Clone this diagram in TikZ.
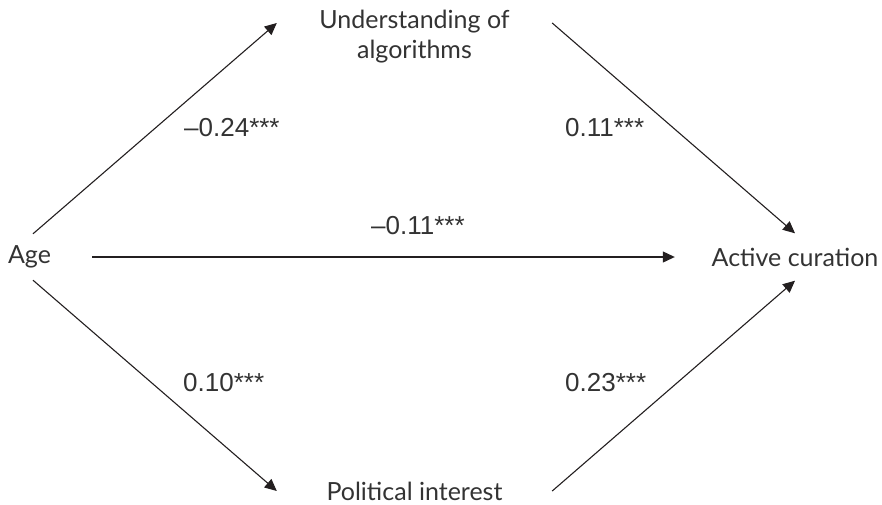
\documentclass[tikz,border=0pt]{standalone}
\usepackage{fontspec}
\setmainfont{Lato}
\newfontfamily\coeffont{Liberation Sans}
\usetikzlibrary{arrows.meta}
\definecolor{pathInk}{HTML}{231F20}
\definecolor{pathText}{HTML}{333333}

\begin{document}
\begin{tikzpicture}[x=1pt,y=-1pt]
    \tikzset{var/.style={inner sep=0pt,text=pathText,align=center,font=\fontsize{25}{30}\selectfont},
      coef/.style={inner sep=0pt,anchor=west,text=pathText,font=\coeffont\fontsize{26}{30}\selectfont},
      patharrow/.style={draw=pathInk,line width=1.1pt,-{Triangle[length=12pt,width=11pt]}}}
    \useasboundingbox (0,0) rectangle (882,504);
    % variables
    \node[var,minimum width=125pt,minimum height=46pt] (age) at (29.5,257) {Age};
    \node[var,minimum width=240pt,minimum height=47pt] (act) at (795,257) {Active curation};
    \node[var,minimum width=275pt] (und) at (414.5,37) {Understanding of\\ algorithms};
    \node[var,minimum width=275pt] (pol) at (414.5,491) {Political interest};
    % paths
    \draw[patharrow] ([xshift=3.5pt]age.north) -- ([yshift=14pt]und.west);
    \draw[patharrow] ([yshift=14pt]und.east) -- (act.north);
    \draw[patharrow] (age.east) -- (act.west);
    \draw[patharrow] ([xshift=3.5pt]age.south) -- (pol.west);
    \draw[patharrow] (pol.east) -- (act.south);
    % coefficients
    \node[coef] (c1) at (184,128) {–0.24***};
    \node[coef] (c2) at (565,128) {0.11***};
    \node[coef] (c3) at (371,226) {–0.11***};
    \node[coef] (c4) at (183,383) {0.10***};
    \node[coef] (c5) at (565,383) {0.23***};
\end{tikzpicture}
\end{document}
